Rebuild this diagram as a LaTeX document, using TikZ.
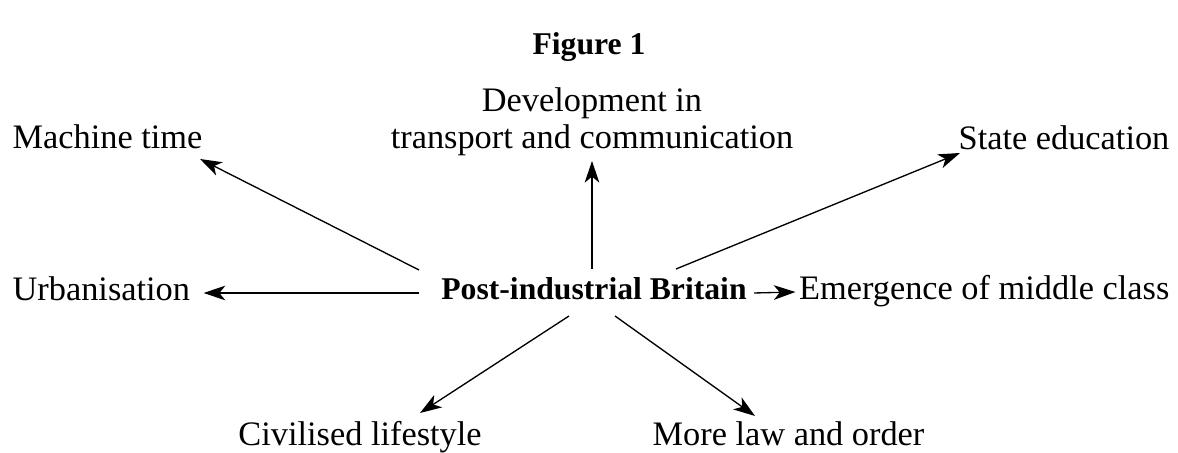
\documentclass[tikz,border=0pt]{standalone}
\usepackage{fontspec}
\setmainfont{Liberation Serif}
\usepackage{tikz}
\usetikzlibrary{arrows.meta, positioning}

\begin{document}
\begin{tikzpicture}[
        x=0.3pt, y=-0.3pt,
        label/.style={inner sep=0pt, anchor=base, font=\fontsize{10.3}{11.1}\selectfont},
        hubbox/.style={label, font=\fontsize{9.5}{11}\selectfont\bfseries},
        arrow/.style={-{Stealth[length=6.5pt, width=4.4pt, inset=1.8pt]}, line width=0.4pt}
    ]
        \useasboundingbox (0,0) rectangle (1178,453);

        \node[hubbox] (title) at (589,55) {Figure 1};

        \node[hubbox] (hub) at (594,300) {Post-industrial Britain};
        \node[label, align=center] (develop) at (592,149) {Development in\\transport and communication};
        \node[label, anchor=base west] (machine) at (12,149) {Machine time};
        \node[label, anchor=base east] (state) at (1170,150) {State education};
        \node[label, anchor=base west] (urban) at (12,301) {Urbanisation};
        \node[label, anchor=base east] (middle) at (1170,300) {Emergence of middle class};
        \node[label] (civil) at (360,446) {Civilised lifestyle};
        \node[label, anchor=base west] (order) at (652,446) {More law and order};

        \draw[arrow] ([shift={(-175,-30)}]hub.base) -- ([shift={(-3,10)}]machine.base east);
        \draw[arrow] ([shift={(-2,-31)}]hub.base) -- ([shift={(0,4)}]develop.south);
        \draw[arrow] ([shift={(82,-31)}]hub.base) -- ([shift={(2,3)}]state.base west);
        \draw[arrow] ([shift={(-175,-7)}]hub.base) -- ([shift={(13,-8)}]urban.base east);
        \draw[arrow] ([shift={(160,-7)}]hub.base) -- ([shift={(-3,-8)}]middle.base west);
        \draw[arrow] ([shift={(-25,16)}]hub.base) -- ([shift={(60,-33)}]civil.base);
        \draw[arrow] ([shift={(21,16)}]hub.base) -- ([shift={(103,-30)}]order.base west);
    \end{tikzpicture}
\end{document}
